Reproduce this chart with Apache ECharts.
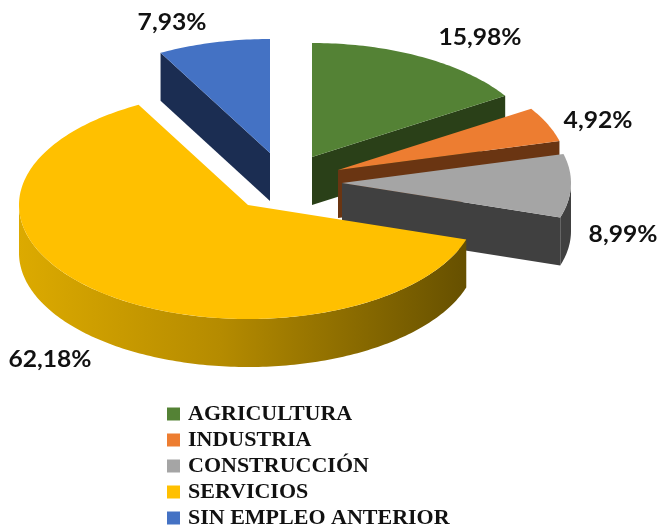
<!DOCTYPE html>
<html>
<head>
<meta charset="utf-8">
<title>Empleo por sector</title>
<style>
html, body { margin: 0; padding: 0; background: #fff; }
#main { width: 659px; height: 528px; }
</style>
<script src="https://cdn.jsdelivr.net/npm/echarts@6/dist/echarts.min.js"></script>
</head>
<body>
<div id="main"></div>
<script>
// datos
var categories = ['AGRICULTURA', 'INDUSTRIA', 'CONSTRUCCIÓN', 'SERVICIOS', 'SIN EMPLEO ANTERIOR'];
var shares = [15.98, 4.92, 8.99, 62.18, 7.93];

// estilo de cada porcion
var topColors = ['#548235', '#ed7d31', '#a5a5a5', '#ffc000', '#4472c4'];
var wallColors = ['#2a4018', '#6a3512', '#404040', '#b88e00', '#1b2d52'];
var apexX = [312, 338, 342, 248, 270];
var apexY = [157, 170, 183, 205, 153];
var labelX = [480, 598, 623, 50, 172];
var labelY = [38, 121, 235, 360, 23];
var drawOrder = [1, 2, 3, 5, 4];

var RX = 229, RY = 114, DEPTH = 48;
var total = shares.reduce(function (a, b) { return a + b; }, 0);

function rad(deg) { return deg * Math.PI / 180; }

// punto del borde de la elipse, 0 grados arriba y sentido horario
function rim(i, deg, drop) {
    return [apexX[i] + RX * Math.sin(rad(deg)), apexY[i] - RY * Math.cos(rad(deg)) + (drop || 0)];
}

function arcPoints(i, from, to, drop) {
    var pts = [];
    var steps = Math.max(2, Math.ceil(Math.abs(to - from)));
    for (var k = 0; k <= steps; k++) {
        pts.push(rim(i, from + (to - from) * k / steps, drop));
    }
    return pts;
}

function poly(points, fill) {
    return { type: 'polygon', shape: { points: points }, style: { fill: fill, stroke: null } };
}

function sliceRenderer(i) {
    var before = shares.slice(0, i).reduce(function (a, b) { return a + b; }, 0);
    return function (params, api) {
        var from = before / total * 360;
        var to = from + api.value(0) / total * 360;
        var children = [];
        var apex = [apexX[i], apexY[i]];
        var apexLow = [apexX[i], apexY[i] + DEPTH];

        // caras de corte visibles
        if (Math.sin(rad(to)) > 0.001) {
            children.push(poly([apex, rim(i, to), rim(i, to, DEPTH), apexLow], wallColors[i]));
        }
        if (Math.sin(rad(from)) < -0.001) {
            children.push(poly([apex, rim(i, from), rim(i, from, DEPTH), apexLow], wallColors[i]));
        }

        // pared exterior (solo la parte de delante)
        var a = Math.max(from, 90), b = Math.min(to, 270);
        if (b > a) {
            var wall = arcPoints(i, a, b, 0).concat(arcPoints(i, b, a, DEPTH));
            var fill = wallColors[i];
            if (i === 3) {
                fill = new echarts.graphic.LinearGradient(0, 0, 1, 0, [
                    { offset: 0, color: '#dcaa00' },
                    { offset: 0.45, color: '#b58b00' },
                    { offset: 1, color: '#665000' }
                ]);
            }
            children.push(poly(wall, fill));
        }

        // cara superior
        children.push(poly([apex].concat(arcPoints(i, from, to, 0)), topColors[i]));

        children.push({
            type: 'text',
            x: labelX[i],
            y: labelY[i],
            scaleX: 1.12,
            style: {
                text: api.value(0).toFixed(2).replace('.', ',') + '%',
                font: 'bold 22px Lato',
                fill: '#111',
                align: 'center',
                verticalAlign: 'middle'
            }
        });
        return { type: 'group', children: children };
    };
}

var series = categories.map(function (name, i) {
    return {
        name: name,
        type: 'custom',
        coordinateSystem: 'none',
        z: drawOrder[i],
        silent: true,
        itemStyle: { color: topColors[i] },
        data: [[shares[i]]],
        renderItem: sliceRenderer(i)
    };
});

var chart = echarts.init(document.getElementById('main'));
chart.setOption({
    animation: false,
    backgroundColor: '#fff',
    legend: {
        data: categories,
        orient: 'vertical',
        left: 167,
        top: 403,
        height: 135,
        padding: 0,
        icon: 'rect',
        itemWidth: 13,
        itemHeight: 13,
        itemGap: 4,
        selectedMode: false,
        textStyle: {
            fontFamily: 'Liberation Serif',
            fontWeight: 'bold',
            fontSize: 22,
            lineHeight: 22,
            color: '#111',
            padding: [0, 0, 0, 3]
        }
    },
    series: series
});
</script>
</body>
</html>
